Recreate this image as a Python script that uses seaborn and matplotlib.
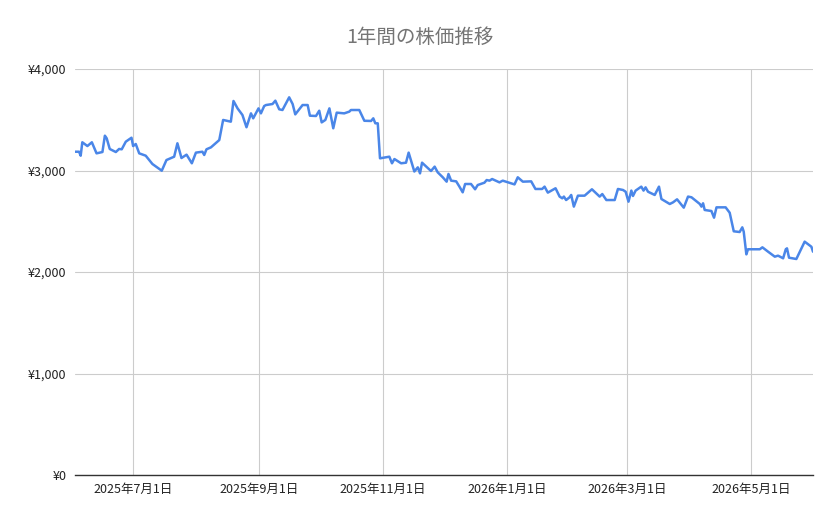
import matplotlib
matplotlib.use("Agg")
import matplotlib.pyplot as plt
import matplotlib.dates as mdates
import matplotlib.ticker as mticker
import seaborn as sns
import pandas as pd

title = "1年間の株価推移"
start_date = "2025-07-01"
# days relative to 2025-07-01
day_offsets = [-28.6, -26.6, -25.8, -25.0, -22.5, -20.3, -18.0, -15.1, -13.9, -13.0, -11.5, -8.5, -6.9, -5.6,
               -3.6, -0.8, 0.0, 1.3, 3.0, 6.2, 9.5, 14.1, 16.4, 20.2, 21.8, 23.8, 26.3, 28.9, 30.9, 34.1,
               35.0, 36.1, 38.3, 42.4, 44.3, 48.1, 49.4, 51.4, 53.8, 55.8, 58.0, 59.1, 61.7, 62.9, 64.5,
               65.4, 68.6, 70.0, 71.9, 73.5, 76.8, 78.5, 79.8, 83.4, 85.9, 87.0, 90.0, 91.6, 92.8, 94.6,
               96.6, 98.5, 100.2, 103.9, 106.4, 107.2, 111.3, 113.8, 117.1, 118.2, 119.2, 120.4, 121.5,
               126.1, 127.4, 128.6, 131.9, 134.3, 135.6, 138.4, 140.1, 141.2, 142.2, 146.6, 148.4, 149.9,
               152.4, 154.3, 155.2, 156.5, 159.0, 160.6, 162.2, 163.4, 166.3, 168.3, 169.6, 172.9, 174.0,
               175.4, 176.7, 180.3, 181.9, 187.7, 189.3, 191.8, 195.9, 198.0, 201.3, 202.5, 204.1, 207.9,
               209.9, 211.2, 212.0, 213.1, 214.8, 215.6, 216.9, 218.9, 222.2, 225.8, 229.6, 230.9, 232.9,
               237.0, 238.6, 241.1, 242.4, 243.8, 245.2, 246.0, 247.3, 250.1, 251.2, 252.2, 253.4, 256.7,
               258.8, 260.0, 264.1, 265.7, 267.7, 271.0, 273.1, 274.8, 278.9, 279.7, 280.5, 281.3, 284.6,
               285.9, 287.1, 291.6, 293.6, 295.6, 298.5, 299.8, 300.5, 301.8, 302.6, 308.4, 309.7, 312.5,
               315.8, 317.4, 319.9, 321.2, 321.8, 322.8, 326.4, 330.5, 333.8, 334.6]
prices = [3185, 3185, 3146, 3278, 3241, 3278, 3169, 3182, 3343, 3317, 3212, 3182, 3212, 3209,
          3284, 3323, 3241, 3261, 3169, 3146, 3064, 2998, 3103, 3136, 3268, 3123, 3156, 3071, 3176, 3185,
          3153, 3209, 3228, 3300, 3498, 3481, 3685, 3612, 3547, 3426, 3563, 3514, 3612, 3563, 3635,
          3645, 3655, 3688, 3603, 3596, 3721, 3655, 3553, 3645, 3645, 3540, 3537, 3589, 3474, 3498,
          3612, 3416, 3570, 3563, 3580, 3596, 3596, 3490, 3488, 3514, 3465, 3465, 3120,
          3136, 3071, 3113, 3071, 3077, 3176, 2990, 3031, 2972, 3077, 2995, 3038, 2982,
          2933, 2890, 2966, 2900, 2893, 2841, 2785, 2867, 2867, 2815, 2857, 2880, 2906,
          2900, 2916, 2883, 2900, 2863, 2933, 2890, 2893, 2818, 2818, 2841, 2782, 2825,
          2743, 2726, 2743, 2709, 2736, 2759, 2644, 2752, 2752, 2815, 2743, 2768, 2709,
          2709, 2818, 2808, 2791, 2693, 2802, 2749, 2802, 2841, 2802, 2834, 2791, 2759,
          2841, 2719, 2670, 2686, 2716, 2634, 2743, 2736, 2670, 2644, 2677, 2611, 2601,
          2535, 2637, 2637, 2584, 2401, 2394, 2440, 2398, 2174, 2224, 2224, 2243, 2200,
          2151, 2161, 2135, 2224, 2233, 2141, 2128, 2299, 2249, 2200]
tick_dates = ["2025-07-01", "2025-09-01", "2025-11-01", "2026-01-01", "2026-03-01", "2026-05-01"]
tick_labels = ["2025年7月1日", "2025年9月1日", "2025年11月1日", "2026年1月1日", "2026年3月1日", "2026年5月1日"]
y_ticks = [0, 1000, 2000, 3000, 4000]

sns.set_theme(style="white")
plt.rcParams['font.family'] = ['Noto Sans CJK JP', 'DejaVu Sans']

df = pd.DataFrame({
    "date": pd.Timestamp(start_date) + pd.to_timedelta(day_offsets, unit="D"),
    "price": prices,
})

fig = plt.figure(figsize=(8.39, 5.19), dpi=100)
ax = fig.add_axes([75/839, 1-475/519, (813-75)/839, (475-69)/519])
sns.lineplot(data=df, x="date", y="price", ax=ax, color="#4a86e8", linewidth=1.8)

ax.set_ylim(0, 4000)
ax.set_xlim(df["date"].min(), df["date"].max())
ax.set_yticks(y_ticks)
ax.yaxis.set_major_formatter(mticker.FuncFormatter(lambda v, p: f"¥{int(v):,}"))
ax.set_xticks(pd.to_datetime(tick_dates))
ax.set_xticklabels(tick_labels)
ax.grid(True, color="#cccccc", linewidth=0.8)
ax.set_axisbelow(True)
for s in ["top", "right", "left"]:
    ax.spines[s].set_visible(False)
ax.spines["bottom"].set_color("#333333")
ax.spines["bottom"].set_linewidth(1)
ax.tick_params(axis="both", length=0, labelsize=9, colors="#222222", pad=6)
ax.set_xlabel("")
ax.set_ylabel("")
fig.text(0.5, 1-37/519, title, ha="center", va="center", fontsize=14, color="#757575")
fig.savefig("out.png", dpi=100)
